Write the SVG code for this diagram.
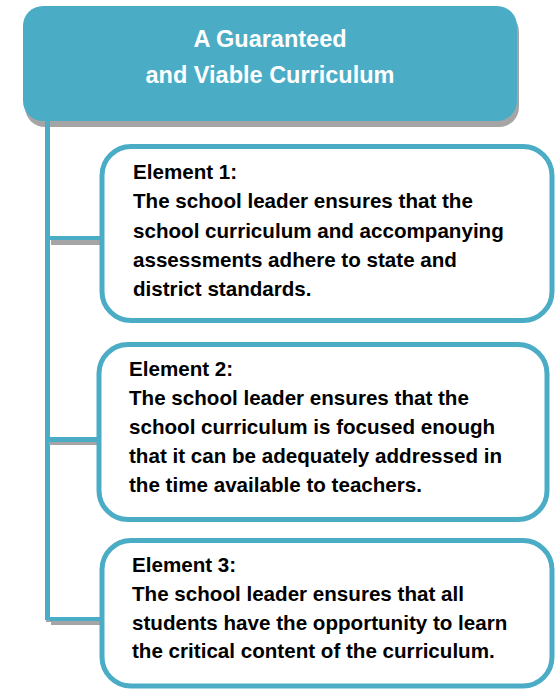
<svg xmlns="http://www.w3.org/2000/svg" width="557" height="689" viewBox="0 0 557 689">
<style>
.hdr{font-family:"Liberation Sans",Arial,sans-serif;font-weight:bold;font-size:23.5px;fill:#fff;text-anchor:middle}
.t{font-family:"Liberation Sans",Arial,sans-serif;font-weight:bold;font-size:20.6px;fill:#000}
.box{fill:#fff;stroke:#4bacc6;stroke-width:5}
.tl{fill:#4bacc6}
.sh{fill:#a5a5a5}
</style>
<rect width="557" height="689" fill="#fff"/>
<g id="header">
<rect x="25" y="12" width="494" height="115" rx="20" class="sh"/>
<rect x="23" y="6" width="494" height="115" rx="20" class="tl"/>
<text class="hdr" x="270" y="47">A Guaranteed</text>
<text class="hdr" x="270" y="83">and Viable Curriculum</text>
</g>
<g id="connectors">
<rect x="46" y="619" width="5" height="3" class="sh"/>
<rect x="45" y="121" width="5" height="499" class="tl"/>
<rect x="51" y="240" width="49" height="5" class="sh"/>
<rect x="50" y="236" width="50" height="4" class="tl"/>
<rect x="49" y="442" width="48" height="3" class="sh"/>
<rect x="50" y="437" width="47" height="5" class="tl"/>
<rect x="51" y="621" width="49" height="4" class="sh"/>
<rect x="50" y="617" width="50" height="4" class="tl"/>
</g>
<g id="element1">
<rect x="102" y="146.5" width="450" height="174" rx="29" class="box"/>
<text class="t" x="133" y="179">Element 1:</text>
<text class="t" x="133" y="208">The school leader ensures that the</text>
<text class="t" x="133" y="238">school curriculum and accompanying</text>
<text class="t" x="133" y="267">assessments adhere to state and</text>
<text class="t" x="133" y="296">district standards.</text>
</g>
<g id="element2">
<rect x="99" y="344.5" width="448" height="175" rx="29" class="box"/>
<text class="t" x="129" y="376">Element 2:</text>
<text class="t" x="129" y="405">The school leader ensures that the</text>
<text class="t" x="129" y="434">school curriculum is focused enough</text>
<text class="t" x="129" y="463">that it can be adequately addressed in</text>
<text class="t" x="129" y="492">the time available to teachers.</text>
</g>
<g id="element3">
<rect x="102" y="540.5" width="450" height="145.5" rx="29" class="box"/>
<text class="t" x="132" y="572">Element 3:</text>
<text class="t" x="132" y="601">The school leader ensures that all</text>
<text class="t" x="132" y="630">students have the opportunity to learn</text>
<text class="t" x="132" y="658">the critical content of the curriculum.</text>
</g>
</svg>
